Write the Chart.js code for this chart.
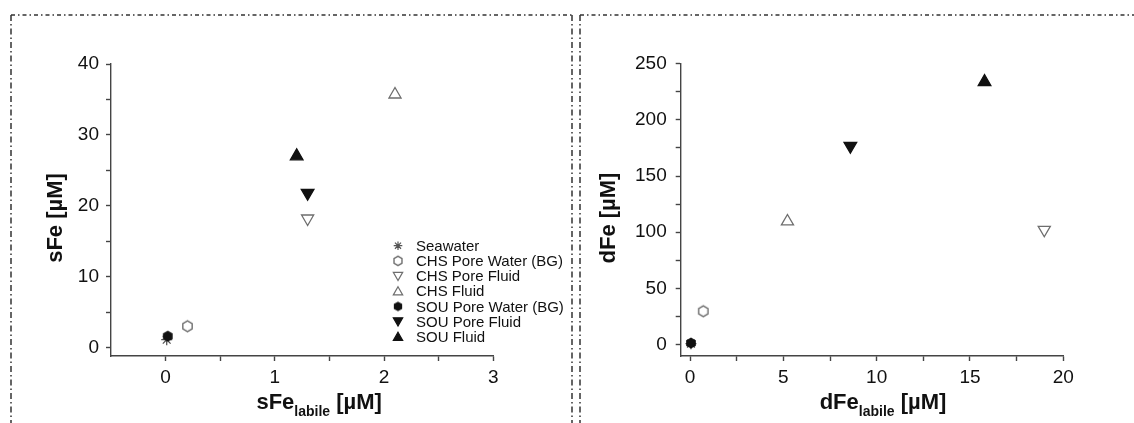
<!DOCTYPE html>
<html>
<head>
<meta charset="utf-8">
<script src="https://cdn.jsdelivr.net/npm/chart.js@4.4.0/dist/chart.umd.min.js"></script>
<style>
  html, body { margin: 0; padding: 0; background: #fff; }
  #wrap { position: relative; width: 1134px; height: 423px; overflow: hidden; }
  #left { position: absolute; left: 0; top: 0; }
  #right { position: absolute; left: 576px; top: 0; }
</style>
</head>
<body>
<div id="wrap">
  <canvas id="left" width="576" height="423"></canvas>
  <canvas id="right" width="558" height="423"></canvas>
</div>
<script>
const seriesNames = ['Seawater', 'CHS Pore Water (BG)', 'CHS Pore Fluid', 'CHS Fluid',
                     'SOU Pore Water (BG)', 'SOU Pore Fluid', 'SOU Fluid'];

// left panel: sFe_labile (x) vs sFe (y), same order as seriesNames
const sFeLabile = [0.01, 0.2, 1.3, 2.1, 0.02, 1.3, 1.2];
const sFe = [1.1, 3.0, 18.2, 35.7, 1.6, 21.8, 27.0];

// right panel: dFe_labile (x) vs dFe (y)
const dFeLabile = [0.05, 0.71, 18.98, 5.22, 0.05, 8.59, 15.78];
const dFe = [1.0, 29.8, 102.2, 109.6, 1.5, 176.7, 233.7];

const sFeLabileTicks = [0, 0.5, 1, 1.5, 2, 2.5, 3];
const sFeTicks = [0, 5, 10, 15, 20, 25, 30, 35, 40];
const dFeLabileTicks = [0, 2.5, 5, 7.5, 10, 12.5, 15, 17.5, 20];
const dFeTicks = [0, 25, 50, 75, 100, 125, 150, 175, 200, 225, 250];

const FONT = '"Liberation Sans", Arial, sans-serif';
const GREY = '#6e6e6e';
const BLACK = '#111';

function hexagon(r, filled) {
    const s = Math.ceil(2 * r + 4);
    const c = document.createElement('canvas');
    c.width = s; c.height = s;
    const g = c.getContext('2d');
    g.beginPath();
    for (let i = 0; i < 6; i++) {
        const a = Math.PI / 3 * i + Math.PI / 6;
        const px = s / 2 + r * Math.cos(a), py = s / 2 + r * Math.sin(a);
        if (i === 0) g.moveTo(px, py); else g.lineTo(px, py);
    }
    g.closePath();
    if (filled) { g.fillStyle = BLACK; g.fill(); }
    else { g.strokeStyle = GREY; g.lineWidth = 1.4; g.stroke(); }
    return c;
}

const hexOpen = hexagon(5.4, false);
const hexFull = hexagon(5.6, true);
const hexOpenSmall = hexagon(4.6, false);
const hexFullSmall = hexagon(4.8, true);

const markers = [
    { style: 'star', radius: 5.5, rot: 0, border: '#555', fill: 'rgba(0,0,0,0)' },
    { style: hexOpen, radius: 5, rot: 0, border: GREY, fill: 'rgba(0,0,0,0)' },
    { style: 'triangle', radius: 7, rot: 180, border: GREY, fill: '#fff' },
    { style: 'triangle', radius: 7, rot: 0, border: GREY, fill: '#fff' },
    { style: hexFull, radius: 5, rot: 0, border: BLACK, fill: BLACK },
    { style: 'triangle', radius: 7.3, rot: 180, border: BLACK, fill: BLACK },
    { style: 'triangle', radius: 7.3, rot: 0, border: BLACK, fill: BLACK }
];

function makeDatasets(xs, ys) {
    return seriesNames.map((name, i) => ({
        label: name,
        data: [{ x: xs[i], y: ys[i] }],
        pointStyle: markers[i].style,
        pointRadius: markers[i].radius,
        pointRotation: markers[i].rot,
        pointBorderColor: markers[i].border,
        pointBackgroundColor: markers[i].fill,
        pointBorderWidth: 1.3,
        showLine: false,
        order: i === 0 ? 10 : i
    }));
}

// dash-dot frames, axis titles with subscript, inset legend
const decor = {
    id: 'decor',
    afterDraw(chart, args, o) {
        const ctx = chart.ctx;
        const ca = chart.chartArea;
        ctx.save();
        ctx.strokeStyle = '#333';
        ctx.lineWidth = 1.5;
        ctx.setLineDash([6, 3, 1.5, 3]);
        o.verticals.forEach(vx => {
            ctx.beginPath(); ctx.moveTo(vx, o.frameTop); ctx.lineTo(vx, chart.height); ctx.stroke();
        });
        ctx.setLineDash([4, 3, 1.5, 3]);
        ctx.beginPath(); ctx.moveTo(o.topFrom, o.frameTop); ctx.lineTo(o.topTo, o.frameTop); ctx.stroke();
        ctx.setLineDash([]);

        // x title: main + subscript + unit
        ctx.fillStyle = '#111';
        ctx.textBaseline = 'alphabetic';
        ctx.textAlign = 'left';
        const mainFont = 'bold 22px ' + FONT, subFont = 'bold 14px ' + FONT;
        ctx.font = mainFont;
        const w1 = ctx.measureText(o.xMain).width;
        const w3 = ctx.measureText(' [µM]').width;
        ctx.font = subFont;
        const w2 = ctx.measureText('labile').width;
        let x = (ca.left + ca.right) / 2 + o.xShift - (w1 + w2 + w3) / 2;
        ctx.font = mainFont;
        ctx.fillText(o.xMain, x, 409);
        x += w1;
        ctx.font = subFont;
        ctx.fillText('labile', x, 416);
        x += w2;
        ctx.font = mainFont;
        ctx.fillText(' [µM]', x, 409);

        // y title
        ctx.save();
        ctx.translate(o.yTitleX, 218);
        ctx.rotate(-Math.PI / 2);
        ctx.textAlign = 'center';
        ctx.textBaseline = 'middle';
        ctx.font = mainFont;
        ctx.fillText(o.yTitle, 0, 0);
        ctx.restore();

        if (o.legend) {
            const helpers = Chart.helpers;
            ctx.font = '15px ' + FONT;
            ctx.textBaseline = 'middle';
            ctx.textAlign = 'left';
            chart.data.datasets.forEach((ds, i) => {
                const ly = o.legend.y + i * o.legend.step;
                let style = ds.pointStyle;
                if (style === hexOpen) style = hexOpenSmall;
                if (style === hexFull) style = hexFullSmall;
                ctx.save();
                ctx.strokeStyle = ds.pointBorderColor;
                ctx.fillStyle = ds.pointBackgroundColor;
                ctx.lineWidth = 1.2;
                const r = style === 'triangle' ? 5.4 : 4.3;
                helpers.drawPoint(ctx, { pointStyle: style, rotation: ds.pointRotation, radius: r, borderWidth: 1.2 },
                    o.legend.x, ly + (style === 'triangle' ? (ds.pointRotation ? -1 : 1) : 0));
                ctx.restore();
                ctx.fillStyle = '#111';
                ctx.fillText(ds.label, o.legend.x + 18, ly + 1);
            });
        }
        ctx.restore();
    }
};

function axis(min, max, ticks, labelEvery, fitSize, horizontal, pad) {
    return {
        type: 'linear',
        min: min,
        max: max,
        afterBuildTicks: s => { s.ticks = ticks.map(v => ({ value: v })); },
        afterFit: s => { if (horizontal) s.height = fitSize; else s.width = fitSize; },
        border: { display: true, color: '#444', width: 1.4 },
        grid: { drawOnChartArea: false, drawTicks: true, tickLength: 5, tickColor: '#444', tickWidth: 1.4 },
        ticks: {
            color: '#111',
            font: { size: 19, family: FONT },
            padding: pad,
            maxRotation: 0,
            autoSkip: false,
            callback: v => (Math.abs(v / labelEvery - Math.round(v / labelEvery)) < 1e-6 ? String(v) : '')
        }
    };
}

function makeChart(id, xs, ys, cfg) {
    return new Chart(document.getElementById(id), {
        type: 'scatter',
        data: { datasets: makeDatasets(xs, ys) },
        options: {
            responsive: false,
            animation: false,
            devicePixelRatio: 1,
            events: [],
            layout: { padding: { left: 0, top: cfg.top, right: cfg.right, bottom: 0 } },
            plugins: { legend: { display: false }, tooltip: { enabled: false }, decor: cfg.decor },
            scales: {
                x: axis(cfg.xMin, cfg.xMax, cfg.xTicks, cfg.xEvery, cfg.xHeight, true, 5),
                y: axis(cfg.yMin, cfg.yMax, cfg.yTicks, cfg.yEvery, cfg.yWidth, false, cfg.yPad)
            }
        },
        plugins: [decor]
    });
}

makeChart('left', sFeLabile, sFe, {
    top: 64, right: 82.7, xHeight: 67, yWidth: 111, yPad: 7,
    xMin: -0.5, xMax: 3, xTicks: sFeLabileTicks, xEvery: 1,
    yMin: -1.2, yMax: 40, yTicks: sFeTicks, yEvery: 10,
    decor: {
        verticals: [11, 572], frameTop: 15, topFrom: 11, topTo: 572,
        xMain: 'sFe', xShift: 17, yTitle: 'sFe [µM]', yTitleX: 56,
        legend: { x: 398, y: 245.7, step: 15.17 }
    }
});

makeChart('right', dFeLabile, dFe, {
    top: 63.5, right: 70.7, xHeight: 67, yWidth: 104.7, yPad: 9,
    xMin: -0.5, xMax: 20, xTicks: dFeLabileTicks, xEvery: 5,
    yMin: -10, yMax: 250, yTicks: dFeTicks, yEvery: 50,
    decor: {
        verticals: [4], frameTop: 15, topFrom: 4, topTo: 558,
        xMain: 'dFe', xShift: 11, yTitle: 'dFe [µM]', yTitleX: 33,
        legend: null
    }
});
</script>
</body>
</html>
